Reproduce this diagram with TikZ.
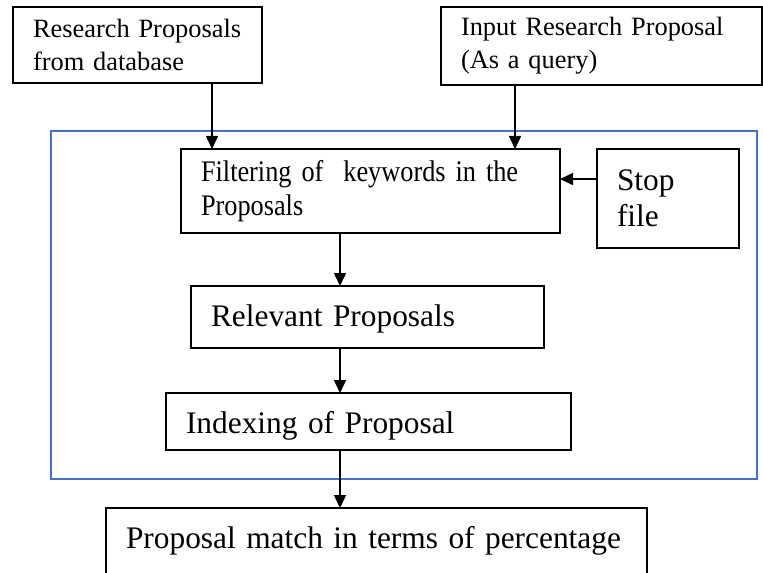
\documentclass[tikz,border=0pt]{standalone}
\usepackage{fontspec}
\setmainfont{Liberation Serif}
\newfontfamily\condserif[FakeStretch=0.88]{Liberation Serif}
\usetikzlibrary{arrows.meta,calc}
\definecolor{frameblue}{RGB}{68,114,196}
\begin{document}
\begin{tikzpicture}[x=1bp,y=-1bp,
  box/.style={draw=black, line width=1.5bp, rectangle, anchor=north west, outer sep=0pt, inner xsep=20bp, inner ysep=0pt, align=left},
  small/.style={font=\fontsize{26.5}{33}\selectfont},
  cond/.style={font=\condserif\fontsize{30}{34}\selectfont},
  big/.style={font=\fontsize{31.5}{36}\selectfont},
  arr/.style={line width=1.6bp, -{Triangle[length=13bp,width=12bp]}},
  frame/.style={draw=frameblue, line width=1.5bp, rectangle, anchor=north west, outer sep=0pt, inner sep=0pt}
]
\useasboundingbox (0,0) rectangle (763,573);
% container
\node[frame, minimum width=706bp, minimum height=348bp] (frm) at (51,131) {};
% boxes
\node[box, small, minimum width=249bp, minimum height=76bp, text width=209bp] (A) at (13,7)
  {\mbox{Research Proposals}\\\mbox{from database}};
\node[box, small, minimum width=321bp, minimum height=78bp, text width=281bp] (B) at (441,7)
  {\mbox{Input Research Proposal}\\\mbox{(As a query)}};
\node[box, cond, minimum width=379bp, minimum height=84bp, text width=339bp] (F) at (181,149)
  {\mbox{Filtering of\ \ keywords in the}\\\mbox{Proposals}};
\node[box, big, minimum width=142bp, minimum height=99bp, text width=102bp] (S) at (597,149)
  {\mbox{Stop}\\\mbox{file}};
\node[box, big, minimum width=353bp, minimum height=62bp, text width=313bp, text height=22bp, text depth=4bp] (R) at (191,286)
  {\mbox{Relevant Proposals}};
\node[box, big, minimum width=405bp, minimum height=57bp, text width=365bp, text height=23bp, text depth=0bp] (I) at (166,393)
  {\mbox{Indexing of Proposal}};
\node[box, big, minimum width=541bp, minimum height=80bp, text width=501bp, text height=14bp, text depth=14bp] (P) at (106,508)
  {\mbox{Proposal match in terms of percentage}};
% connectors
\coordinate (ax) at (340,0);
\draw[arr] ([xshift=74.5bp]A.south) -- ([xshift=74.5bp]A.south |- F.north);
\draw[arr] ([xshift=-86.5bp]B.south) -- ([xshift=-86.5bp]B.south |- F.north);
\draw[arr] ([yshift=19.5bp]S.west) -- ([yshift=19.5bp]S.west -| F.east);
\draw[arr] (F.south -| ax) -- (R.north -| ax);
\draw[arr] (R.south -| ax) -- (I.north -| ax);
\draw[arr] (I.south -| ax) -- (P.north -| ax);
\end{tikzpicture}
\end{document}
